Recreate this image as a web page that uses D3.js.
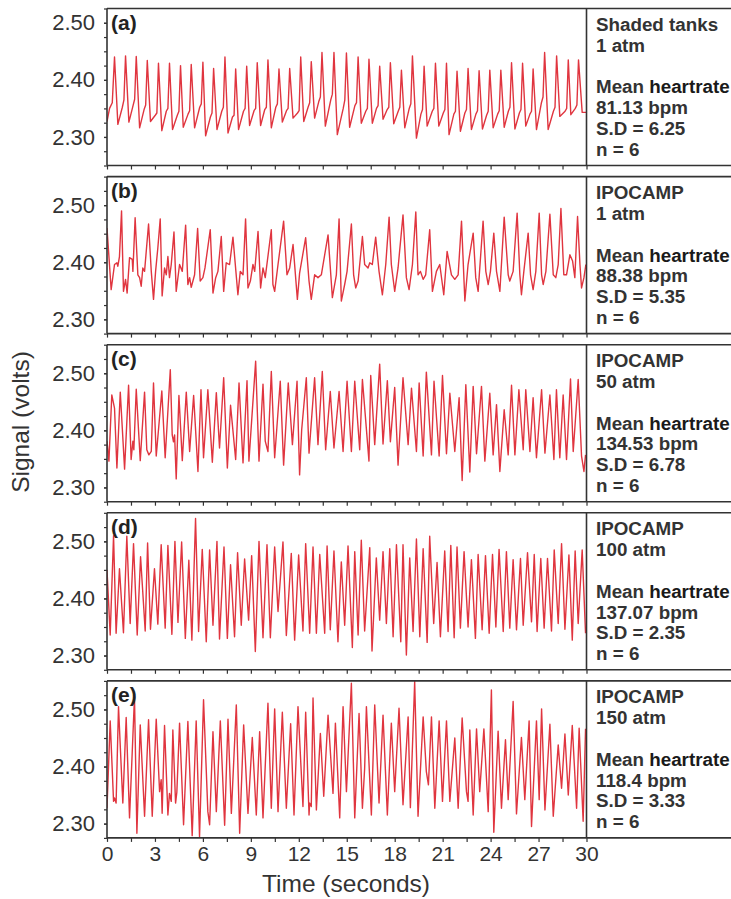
<!DOCTYPE html>
<html>
<head>
<meta charset="utf-8">
<script src="https://cdn.jsdelivr.net/npm/d3@7"></script>
<style>
  body { margin: 0; background: #fff; }
  svg { display: block; font-family: "Liberation Sans", Arial, sans-serif; }
</style>
</head>
<body>
<div id="container"></div>
<script>
/* CONSTANTS AND GLOBALS */
const width = 731,
  height = 899,
  plotLeft = 107,
  plotRight = 586.5,
  panelH = 157,
  panelStep = 168.1,
  firstTop = 8.5;

/* DATA */
const letters = ["(a)", "(b)", "(c)", "(d)", "(e)"];
const tanks = ["Shaded tanks", "IPOCAMP", "IPOCAMP", "IPOCAMP", "IPOCAMP"];
const pressures = ["1 atm", "1 atm", "50 atm", "100 atm", "150 atm"];
const meanRates = ["81.13", "88.38", "134.53", "137.07", "118.4"];
const sds = ["6.25", "5.35", "6.78", "2.35", "3.33"];
const nFish = [6, 6, 6, 6, 6];
const yDomains = [[2.25, 2.525], [2.275, 2.55], [2.275, 2.55], [2.275, 2.55], [2.275, 2.55]];
const yTickVals = [2.30, 2.40, 2.50];
const xTickVals = [0, 3, 6, 9, 12, 15, 18, 21, 24, 27, 30];

// signal traces: [time (s), signal (V)]
const traceA = [
  [0.00,2.327],[0.16,2.350],[0.33,2.360],[0.47,2.440],[0.68,2.322],
  [0.96,2.352],[1.06,2.365],[1.16,2.442],[1.37,2.326],
  [1.63,2.355],[1.73,2.366],[1.83,2.441],[2.04,2.316],
  [2.32,2.348],[2.42,2.356],[2.52,2.434],[2.72,2.327],
  [3.02,2.338],[3.12,2.342],[3.22,2.429],[3.43,2.311],
  [3.71,2.345],[3.81,2.350],[3.91,2.429],[4.10,2.313],
  [4.40,2.338],[4.50,2.345],[4.60,2.425],[4.77,2.317],
  [5.07,2.340],[5.17,2.346],[5.27,2.427],[5.48,2.316],
  [5.80,2.352],[5.90,2.358],[6.00,2.431],[6.17,2.302],
  [6.47,2.335],[6.57,2.342],[6.67,2.420],[6.88,2.313],
  [7.18,2.345],[7.28,2.352],[7.38,2.440],[7.57,2.307],
  [7.85,2.335],[7.95,2.338],[8.05,2.419],[8.23,2.313],
  [8.54,2.345],[8.64,2.350],[8.74,2.424],[8.92,2.320],
  [9.20,2.346],[9.30,2.350],[9.40,2.430],[9.61,2.320],
  [9.87,2.348],[9.97,2.352],[10.07,2.435],[10.28,2.316],
  [10.56,2.352],[10.66,2.358],[10.76,2.419],[10.97,2.326],
  [11.23,2.346],[11.33,2.350],[11.43,2.420],[11.64,2.333],
  [11.92,2.342],[12.02,2.346],[12.12,2.440],[12.31,2.327],
  [12.58,2.352],[12.68,2.360],[12.78,2.432],[12.99,2.333],
  [13.25,2.362],[13.35,2.370],[13.45,2.448],[13.66,2.319],
  [14.00,2.365],[14.10,2.375],[14.20,2.448],[14.41,2.304],
  [14.78,2.350],[14.88,2.365],[14.98,2.447],[15.18,2.317],
  [15.51,2.355],[15.61,2.360],[15.71,2.440],[15.91,2.324],
  [16.19,2.345],[16.29,2.350],[16.39,2.436],[16.60,2.324],
  [16.86,2.350],[16.96,2.355],[17.06,2.424],[17.27,2.331],
  [17.53,2.348],[17.63,2.352],[17.73,2.430],[17.94,2.323],
  [18.22,2.345],[18.32,2.352],[18.42,2.417],[18.63,2.316],
  [18.91,2.350],[19.01,2.358],[19.11,2.442],[19.36,2.298],
  [19.64,2.340],[19.74,2.348],[19.84,2.424],[20.03,2.319],
  [20.35,2.345],[20.45,2.350],[20.55,2.429],[20.76,2.319],
  [21.04,2.342],[21.14,2.348],[21.24,2.429],[21.40,2.304],
  [21.70,2.340],[21.80,2.345],[21.90,2.415],[22.11,2.310],
  [22.39,2.342],[22.49,2.348],[22.59,2.420],[22.80,2.313],
  [23.08,2.340],[23.18,2.346],[23.28,2.416],[23.49,2.314],
  [23.75,2.338],[23.85,2.345],[23.95,2.417],[24.16,2.316],
  [24.44,2.340],[24.54,2.346],[24.64,2.417],[24.85,2.317],
  [25.11,2.345],[25.21,2.352],[25.31,2.430],[25.52,2.314],
  [25.80,2.342],[25.90,2.348],[26.00,2.429],[26.20,2.319],
  [26.46,2.340],[26.56,2.345],[26.66,2.419],[26.87,2.313],
  [27.18,2.360],[27.28,2.370],[27.38,2.448],[27.60,2.313],
  [27.93,2.345],[28.03,2.352],[28.13,2.442],[28.33,2.336],
  [28.66,2.345],[28.76,2.350],[28.86,2.435],[29.02,2.339],
  [29.30,2.350],[29.40,2.356],[29.50,2.435],[29.73,2.343],
  [30.00,2.343]
];

const traceB = [
  [0.00,2.460],[0.26,2.352],[0.47,2.396],[0.62,2.399],[0.68,2.393],[0.78,2.410],
  [0.91,2.490],[1.03,2.349],[1.16,2.370],[1.26,2.346],[1.41,2.408],[1.58,2.405],
  [1.62,2.384],[1.76,2.478],[1.93,2.378],[2.04,2.373],[2.14,2.358],[2.24,2.390],
  [2.35,2.384],[2.60,2.467],[2.77,2.384],[2.91,2.335],[3.04,2.384],[3.18,2.425],
  [3.33,2.476],[3.45,2.341],[3.60,2.390],[3.71,2.378],[3.81,2.410],[3.91,2.373],
  [4.02,2.396],[4.19,2.453],[4.33,2.349],[4.54,2.396],[4.71,2.384],[4.92,2.465],
  [5.06,2.361],[5.17,2.373],[5.27,2.356],[5.48,2.378],[5.67,2.459],[5.83,2.367],
  [6.00,2.373],[6.13,2.390],[6.46,2.457],[6.63,2.346],[6.80,2.373],[6.94,2.384],
  [7.15,2.445],[7.30,2.349],[7.46,2.399],[7.67,2.396],[7.88,2.444],[8.19,2.343],
  [8.34,2.384],[8.51,2.378],[8.67,2.476],[8.82,2.355],[8.97,2.367],[9.13,2.396],
  [9.24,2.384],[9.45,2.454],[9.61,2.355],[9.76,2.390],[9.90,2.373],[10.28,2.457],
  [10.38,2.361],[10.49,2.349],[10.70,2.396],[11.05,2.472],[11.26,2.378],[11.43,2.390],
  [11.64,2.431],[11.91,2.335],[12.05,2.381],[12.43,2.443],[12.64,2.367],[12.78,2.335],
  [12.99,2.378],[13.20,2.373],[13.41,2.378],[13.83,2.448],[14.10,2.338],[14.35,2.378],
  [14.52,2.476],[14.66,2.332],[14.87,2.361],[15.02,2.384],[15.29,2.467],[15.43,2.378],
  [15.56,2.355],[15.71,2.367],[15.98,2.445],[16.12,2.396],[16.33,2.390],[16.44,2.399],
  [16.60,2.396],[16.81,2.444],[17.02,2.384],[17.23,2.343],[17.44,2.396],[17.65,2.479],
  [17.79,2.396],[18.00,2.349],[18.21,2.390],[18.52,2.483],[18.73,2.373],[18.90,2.352],
  [19.11,2.396],[19.32,2.488],[19.46,2.378],[19.61,2.384],[19.78,2.370],[19.94,2.378],
  [20.19,2.457],[20.36,2.349],[20.61,2.384],[20.82,2.396],[21.07,2.343],[21.28,2.419],
  [21.55,2.378],[21.76,2.370],[21.97,2.378],[22.18,2.472],[22.39,2.332],[22.59,2.396],
  [22.91,2.451],[23.07,2.373],[23.22,2.349],[23.53,2.472],[23.70,2.384],[23.85,2.361],
  [23.99,2.384],[24.20,2.451],[24.37,2.384],[24.58,2.349],[24.85,2.479],[25.10,2.378],
  [25.20,2.367],[25.41,2.384],[25.66,2.486],[25.83,2.378],[25.93,2.343],[26.08,2.384],
  [26.35,2.451],[26.50,2.378],[26.66,2.352],[26.83,2.384],[27.04,2.486],[27.19,2.378],
  [27.29,2.361],[27.46,2.384],[27.71,2.484],[27.92,2.378],[28.08,2.373],[28.23,2.396],
  [28.40,2.494],[28.58,2.378],[28.75,2.378],[28.96,2.413],[29.13,2.402],[29.27,2.373],
  [29.44,2.480],[29.59,2.396],[29.69,2.355],[29.84,2.373],[29.96,2.396]
];

const traceC = [
  [0.00,2.381],[0.12,2.346],[0.30,2.462],[0.47,2.439],[0.62,2.334],[0.83,2.467],
  [1.10,2.332],[1.35,2.479],[1.51,2.349],[1.62,2.381],[1.68,2.366],[1.83,2.472],
  [2.08,2.347],[2.35,2.467],[2.49,2.366],[2.62,2.357],[2.77,2.363],[2.91,2.483],
  [3.08,2.355],[3.43,2.469],[3.64,2.352],[3.96,2.506],[4.08,2.392],[4.16,2.380],
  [4.23,2.392],[4.33,2.315],[4.50,2.461],[4.71,2.347],[4.96,2.467],[5.17,2.363],
  [5.42,2.461],[5.69,2.328],[5.88,2.471],[6.04,2.352],[6.31,2.471],[6.59,2.344],
  [6.84,2.466],[7.04,2.369],[7.30,2.492],[7.53,2.334],[7.73,2.444],[8.05,2.349],
  [8.26,2.483],[8.51,2.343],[8.76,2.487],[8.88,2.346],[9.30,2.521],[9.51,2.346],
  [9.76,2.481],[9.90,2.381],[10.07,2.363],[10.28,2.503],[10.49,2.352],[10.84,2.486],
  [11.05,2.339],[11.34,2.483],[11.60,2.375],[11.89,2.486],[12.05,2.322],[12.18,2.401],
  [12.47,2.492],[12.64,2.360],[12.99,2.492],[13.20,2.375],[13.47,2.503],[13.68,2.366],
  [13.97,2.468],[14.20,2.369],[14.52,2.468],[14.77,2.363],[15.02,2.486],[15.29,2.363],
  [15.50,2.486],[15.81,2.366],[15.98,2.489],[16.39,2.346],[16.50,2.496],[16.75,2.375],
  [17.06,2.516],[17.27,2.376],[17.54,2.487],[17.73,2.380],[18.00,2.475],[18.21,2.339],
  [18.52,2.492],[18.84,2.375],[19.05,2.474],[19.36,2.363],[19.53,2.483],[19.78,2.355],
  [19.98,2.502],[20.30,2.357],[20.46,2.486],[20.78,2.355],[20.99,2.496],[21.24,2.359],
  [21.45,2.465],[21.76,2.363],[22.03,2.457],[22.22,2.312],[22.45,2.480],[22.70,2.327],
  [22.91,2.477],[23.12,2.359],[23.43,2.477],[23.64,2.346],[23.95,2.465],[24.16,2.357],
  [24.37,2.445],[24.58,2.328],[24.85,2.436],[25.10,2.357],[25.31,2.479],[25.52,2.357],
  [25.77,2.471],[26.04,2.366],[26.20,2.471],[26.46,2.363],[26.66,2.457],[26.87,2.352],
  [27.19,2.471],[27.40,2.360],[27.71,2.462],[27.96,2.349],[28.12,2.471],[28.33,2.352],
  [28.54,2.462],[28.75,2.349],[29.00,2.490],[29.17,2.363],[29.48,2.489],[29.69,2.355],
  [29.84,2.328],[29.94,2.357]
];

const traceD = [
  [0.00,2.450],[0.20,2.336],[0.41,2.510],[0.57,2.339],[0.78,2.452],[1.03,2.340],
  [1.24,2.509],[1.45,2.356],[1.66,2.496],[1.89,2.336],[2.10,2.473],[2.39,2.343],
  [2.54,2.497],[2.72,2.346],[2.97,2.452],[3.18,2.355],[3.39,2.494],[3.64,2.348],
  [3.81,2.493],[4.06,2.337],[4.25,2.500],[4.44,2.358],[4.67,2.499],[4.90,2.330],
  [5.12,2.467],[5.31,2.327],[5.54,2.540],[5.73,2.342],[5.96,2.486],[6.21,2.324],
  [6.42,2.485],[6.63,2.353],[6.88,2.500],[7.04,2.329],[7.32,2.490],[7.53,2.330],
  [7.73,2.459],[7.98,2.333],[8.17,2.480],[8.40,2.353],[8.61,2.469],[8.86,2.362],
  [9.05,2.475],[9.28,2.307],[9.51,2.500],[9.76,2.331],[10.01,2.494],[10.22,2.331],
  [10.49,2.490],[10.70,2.377],[11.01,2.499],[11.22,2.335],[11.53,2.479],[11.74,2.327],
  [11.99,2.476],[12.26,2.343],[12.43,2.496],[12.68,2.339],[12.89,2.490],[13.10,2.339],
  [13.31,2.477],[13.62,2.339],[13.77,2.492],[13.97,2.345],[14.20,2.483],[14.45,2.324],
  [14.66,2.464],[14.87,2.353],[15.08,2.492],[15.35,2.314],[15.50,2.482],[15.71,2.336],
  [15.91,2.502],[16.12,2.343],[16.44,2.489],[16.58,2.308],[16.85,2.471],[17.06,2.362],
  [17.27,2.482],[17.48,2.356],[17.69,2.487],[17.90,2.333],[18.11,2.494],[18.38,2.324],
  [18.52,2.494],[18.73,2.301],[18.94,2.471],[19.15,2.342],[19.36,2.504],[19.57,2.333],
  [19.78,2.487],[20.03,2.323],[20.19,2.509],[20.44,2.356],[20.65,2.463],[20.86,2.333],
  [21.13,2.483],[21.34,2.342],[21.51,2.493],[21.72,2.331],[21.90,2.490],[22.11,2.348],
  [22.34,2.482],[22.59,2.350],[22.80,2.468],[23.05,2.330],[23.22,2.477],[23.47,2.345],
  [23.68,2.475],[23.91,2.339],[24.12,2.477],[24.33,2.350],[24.53,2.486],[24.79,2.342],
  [24.99,2.482],[25.20,2.348],[25.41,2.468],[25.62,2.345],[25.87,2.470],[26.04,2.353],
  [26.31,2.480],[26.56,2.359],[26.73,2.477],[26.91,2.342],[27.14,2.470],[27.35,2.348],
  [27.56,2.470],[27.81,2.343],[27.98,2.485],[28.23,2.356],[28.44,2.496],[28.65,2.346],
  [28.90,2.476],[29.11,2.327],[29.29,2.483],[29.48,2.356],[29.73,2.485],[29.94,2.339]
];

const traceE = [
  [0.00,2.327],[0.20,2.480],[0.41,2.339],[0.47,2.345],[0.57,2.336],[0.72,2.505],
  [0.99,2.336],[1.20,2.486],[1.41,2.310],[1.72,2.522],[1.87,2.283],[2.08,2.473],
  [2.35,2.313],[2.60,2.482],[2.83,2.313],[3.08,2.483],[3.29,2.356],[3.39,2.377],
  [3.45,2.318],[3.60,2.472],[3.81,2.315],[3.91,2.353],[4.02,2.339],[4.12,2.464],
  [4.29,2.336],[4.37,2.355],[4.54,2.476],[4.79,2.298],[5.06,2.479],[5.33,2.279],
  [5.58,2.480],[5.79,2.277],[6.04,2.517],[6.31,2.321],[6.42,2.298],[6.63,2.461],
  [6.84,2.321],[7.09,2.480],[7.36,2.297],[7.57,2.483],[7.78,2.318],[8.09,2.508],
  [8.30,2.283],[8.55,2.473],[8.82,2.318],[9.09,2.451],[9.34,2.315],[9.55,2.461],
  [9.76,2.310],[10.07,2.511],[10.28,2.327],[10.49,2.501],[10.70,2.321],[10.97,2.495],
  [11.22,2.327],[11.49,2.475],[11.70,2.315],[11.95,2.505],[12.26,2.330],[12.43,2.495],
  [12.64,2.315],[12.68,2.336],[12.78,2.330],[12.89,2.520],[13.10,2.324],[13.35,2.458],
  [13.56,2.348],[13.83,2.490],[14.14,2.353],[14.29,2.476],[14.56,2.310],[14.77,2.505],
  [14.98,2.356],[15.29,2.546],[15.50,2.310],[15.77,2.493],[15.98,2.327],[16.12,2.397],
  [16.23,2.505],[16.54,2.315],[16.75,2.508],[17.02,2.336],[17.27,2.490],[17.54,2.315],
  [17.79,2.476],[18.00,2.356],[18.27,2.502],[18.52,2.333],[18.84,2.487],[18.98,2.328],
  [19.25,2.549],[19.46,2.313],[19.78,2.487],[19.98,2.391],[20.11,2.368],[20.30,2.487],
  [20.51,2.327],[20.78,2.480],[20.99,2.339],[21.24,2.480],[21.45,2.339],[21.76,2.450],
  [21.97,2.327],[22.22,2.485],[22.49,2.356],[22.59,2.339],[22.70,2.464],[22.91,2.315],
  [23.12,2.466],[23.32,2.356],[23.58,2.466],[23.85,2.321],[24.05,2.534],[24.20,2.285],
  [24.47,2.462],[24.68,2.327],[24.93,2.447],[25.10,2.342],[25.41,2.514],[25.62,2.317],
  [25.93,2.451],[26.14,2.342],[26.41,2.480],[26.56,2.295],[26.87,2.480],[27.04,2.342],
  [27.19,2.501],[27.40,2.324],[27.71,2.474],[27.92,2.313],[28.23,2.438],[28.44,2.362],
  [28.65,2.457],[28.86,2.350],[29.11,2.472],[29.38,2.327],[29.54,2.467],[29.79,2.304],
  [29.94,2.466]
];

const traces = [traceA, traceB, traceC, traceD, traceE];

/* SCALES */
const xScale = d3.scaleLinear()
  .domain([0, 30])
  .range([plotLeft, plotRight]);

/* HTML ELEMENTS */
const svg = d3.select("#container")
  .append("svg")
  .attr("width", width)
  .attr("height", height);

svg.append("rect")
  .attr("width", width)
  .attr("height", height)
  .attr("fill", "#fff");

const axisColor = "#333";

traces.forEach((trace, i) => {
  const top = firstTop + i * panelStep,
    bottom = top + panelH;

  const yScale = d3.scaleLinear()
    .domain(yDomains[i])
    .range([bottom, top]);

  const g = svg.append("g").attr("class", "panel");

  // clip to the plot area
  g.append("clipPath")
    .attr("id", "clip" + i)
    .append("rect")
    .attr("x", plotLeft)
    .attr("y", top)
    .attr("width", plotRight - plotLeft)
    .attr("height", panelH);

  // y axis, minor ticks every 0.025
  const minorY = d3.range(yDomains[i][0], yDomains[i][1] + 0.0001, 0.025);
  g.append("g")
    .attr("transform", `translate(${plotLeft},0)`)
    .call(d3.axisLeft(yScale).tickValues(minorY).tickSize(3).tickFormat(""))
    .call(ax => ax.select(".domain").remove())
    .call(ax => ax.selectAll("line").attr("stroke", axisColor).attr("stroke-width", 1.2));

  g.append("g")
    .attr("transform", `translate(${plotLeft},0)`)
    .call(d3.axisLeft(yScale).tickValues(yTickVals).tickSize(3).tickPadding(9).tickFormat(d3.format(".2f")))
    .call(ax => ax.select(".domain").remove())
    .call(ax => ax.selectAll("line").attr("stroke", axisColor).attr("stroke-width", 1.2))
    .call(ax => ax.selectAll("text")
      .attr("fill", "#333")
      .style("font-size", "22px")
      .style("font-family", "'Liberation Sans', Arial, sans-serif"));

  // x ticks every 1.5 s on each panel
  const xAxis = d3.axisBottom(xScale)
    .tickValues(d3.range(0, 30.01, 1.5))
    .tickSize(4)
    .tickPadding(4)
    .tickFormat(d => (i === traces.length - 1 && xTickVals.includes(d)) ? d : "");
  g.append("g")
    .attr("transform", `translate(0,${bottom})`)
    .call(xAxis)
    .call(ax => ax.select(".domain").remove())
    .call(ax => ax.selectAll("line").attr("stroke", axisColor).attr("stroke-width", 1.2))
    .call(ax => ax.selectAll("text")
      .attr("fill", "#333")
      .style("font-size", "21px")
      .style("font-family", "'Liberation Sans', Arial, sans-serif"));

  // signal
  const line = d3.line()
    .x(d => xScale(d[0]))
    .y(d => yScale(d[1]));

  g.append("path")
    .datum(trace)
    .attr("clip-path", `url(#clip${i})`)
    .attr("d", line)
    .attr("fill", "none")
    .attr("stroke", "#e0353f")
    .attr("stroke-width", 1.4)
    .attr("stroke-linejoin", "round");

  // frame: top, bottom, left axis, divider
  g.append("line").attr("x1", plotLeft).attr("x2", width).attr("y1", top).attr("y2", top);
  g.append("line").attr("x1", plotLeft).attr("x2", width).attr("y1", bottom).attr("y2", bottom);
  g.append("line").attr("x1", plotLeft).attr("x2", plotLeft).attr("y1", top).attr("y2", bottom);
  g.append("line").attr("x1", plotRight).attr("x2", plotRight).attr("y1", top).attr("y2", bottom);
  g.selectAll(":scope > line")
    .attr("stroke", axisColor)
    .attr("stroke-width", 1.6);

  // panel letter
  g.append("text")
    .attr("x", plotLeft + 4)
    .attr("y", top + 21.5)
    .text(letters[i])
    .style("font-size", "21px")
    .style("font-weight", "bold")
    .attr("fill", "#222");

  // info box
  const info = g.append("text")
    .attr("x", 596)
    .attr("y", top + 22.5)
    .style("font-size", "18.8px")
    .style("font-weight", "bold")
    .attr("fill", "#333");

  info.append("tspan").attr("x", 596).attr("dy", 0).text(tanks[i]);
  info.append("tspan").attr("x", 596).attr("dy", 20.8).text(pressures[i]);
  const mean = info.append("tspan").attr("x", 596).attr("dy", 41.6);
  mean.append("tspan").text("Mean ");
  mean.append("tspan").attr("fill", "#1a1a1a").text("heartrate");
  info.append("tspan").attr("x", 596).attr("dy", 20.8).text(meanRates[i] + " bpm");
  info.append("tspan").attr("x", 596).attr("dy", 20.8).text("S.D = " + sds[i]);
  info.append("tspan").attr("x", 596).attr("dy", 20.8).text("n = " + nFish[i]);
});

// axis titles
svg.append("text")
  .attr("x", 346)
  .attr("y", 892)
  .attr("text-anchor", "middle")
  .text("Time (seconds)")
  .style("font-size", "24.5px")
  .attr("fill", "#333");

svg.append("text")
  .attr("transform", "rotate(-90)")
  .attr("x", -422)
  .attr("y", 29)
  .attr("text-anchor", "middle")
  .text("Signal (volts)")
  .style("font-size", "24.5px")
  .attr("fill", "#333");
</script>
</body>
</html>
